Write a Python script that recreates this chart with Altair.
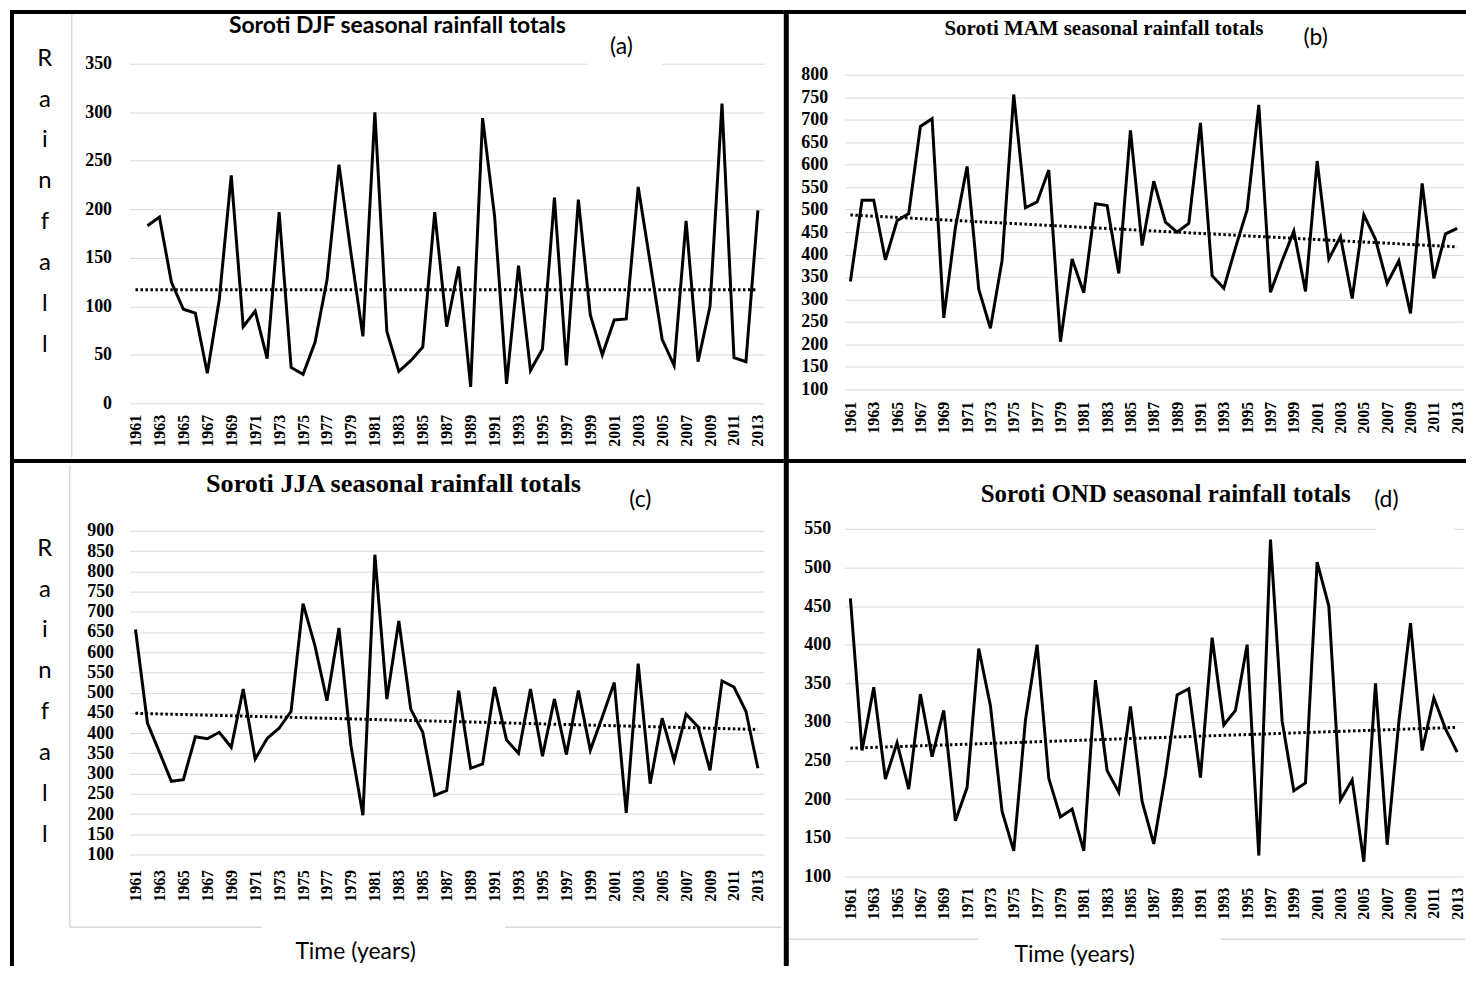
import altair as alt
import pandas as pd

# ---------------- data ----------------
years = list(range(1961, 2014))
tick_years = [1961, 1963, 1965, 1967, 1969, 1971, 1973, 1975, 1977, 1979, 1981,
              1983, 1985, 1987, 1989, 1991, 1993, 1995, 1997, 1999, 2001, 2003,
              2005, 2007, 2009, 2011, 2013]

djf = [None, 183, 192, 125, 97, 93, 31, 107, 235, 79, 95, 46, 197, 37, 30, 63,
       127, 246, 155, 69, 300, 74, 33, 44, 58, 197, 79, 141, 17, 294, 193, 20,
       142, 34, 56, 212, 39, 210, 91, 50, 86, 87, 223, 145, 66, 39, 188, 43,
       100, 309, 47, 43, 199]
mam = [340, 521, 521, 388, 475, 491, 685, 702, 259, 460, 596, 323, 236, 387,
       756, 504, 517, 588, 206, 390, 315, 513, 509, 358, 676, 420, 563, 472,
       450, 469, 693, 353, 325, 415, 500, 733, 316, 386, 452, 318, 608, 390,
       440, 302, 488, 434, 336, 386, 269, 558, 347, 446, 458]
jja = [656, 425, 353, 281, 285, 391, 386, 402, 365, 509, 336, 387, 412, 454,
       720, 615, 480, 660, 369, 197, 841, 484, 677, 459, 402, 246, 258, 505,
       313, 324, 514, 383, 350, 509, 343, 484, 347, 505, 358, 440, 525, 203,
       572, 275, 437, 332, 447, 416, 308, 529, 514, 454, 313]
ond = [460, 263, 345, 226, 273, 213, 336, 255, 315, 172, 215, 395, 321, 184,
       133, 302, 400, 227, 177, 187, 133, 354, 237, 209, 320, 197, 142, 231,
       335, 343, 228, 409, 296, 315, 400, 127, 536, 301, 211, 221, 507, 450,
       199, 225, 119, 350, 141, 300, 428, 263, 331, 291, 261]

trend_years = [1961, 2013]
djf_trend = [117, 117]
mam_trend = [488, 417]
jja_trend = [449, 409]
ond_trend = [266, 293]

titles = ["Soroti DJF seasonal rainfall totals", "Soroti MAM seasonal rainfall totals",
          "Soroti JJA seasonal rainfall totals", "Soroti OND seasonal rainfall totals"]
tags = ["(a)", "(b)", "(c)", "(d)"]
rain_letters = ["R", "a", "i", "n", "f", "a", "l", "l"]
x_title = "Time (years)"

SERIF = "Liberation Serif"
SANS = "Lato"
GRID = "#d9d9d9"
one = pd.DataFrame({"k": [0]})


def box(x1, x2, y1, y2, color):
    return alt.Chart(one).mark_rect(color=color).encode(
        x=alt.value(x1), x2=alt.value(x2), y=alt.value(y1), y2=alt.value(y2))


def hrule(x1, x2, y, color, w):
    return alt.Chart(one).mark_rule(color=color, strokeWidth=w).encode(
        x=alt.value(x1), x2=alt.value(x2), y=alt.value(y))


def vrule(x, y1, y2, color, w):
    return alt.Chart(one).mark_rule(color=color, strokeWidth=w).encode(
        x=alt.value(x), y=alt.value(y1), y2=alt.value(y2))


def label(x, y, s, font, size, weight="normal", baseline="alphabetic", **kw):
    return alt.Chart(one).mark_text(
        text=s, font=font, fontSize=size, fontWeight=weight, color="black",
        align="center", baseline=baseline, **kw).encode(x=alt.value(x), y=alt.value(y))


def panel(values, trend, ymin, ymax, yrange, W, H, L, R, T, B, ypad, xpad, xoff, extras):
    df = pd.DataFrame({"year": years, "rain": values}).dropna()
    tdf = pd.DataFrame({"year": trend_years, "rain": trend})
    xs = alt.X("year:Q", scale=alt.Scale(domain=[1960.5, 2013.5], nice=False, zero=False),
               axis=alt.Axis(values=tick_years, format="d", labelAngle=-90, grid=False,
                             domain=False, ticks=False, labelFont=SERIF, labelFontSize=16,
                             labelFontWeight="bold", labelColor="black", labelPadding=xpad,
                             labelOverlap=False, labelFlush=False, offset=xoff),
               title=None)
    ys = alt.Y("rain:Q", scale=alt.Scale(domain=[ymin, ymax], range=yrange, nice=False, zero=False),
               axis=alt.Axis(values=list(range(ymin, ymax + 1, 50)), grid=True,
                             gridColor=GRID, gridWidth=1, domain=False, ticks=False,
                             labelFont=SERIF, labelFontSize=18, labelFontWeight="bold",
                             labelColor="black", labelPadding=ypad, labelOverlap=False,
                             labelFlush=False),
               title=None)
    bounds = alt.Chart(one).mark_rect(fill="white", opacity=0).encode(
        x=alt.value(-L), x2=alt.value(W + R), y=alt.value(-T), y2=alt.value(H + B))
    line = alt.Chart(df).mark_line(color="black", strokeWidth=3).encode(x=xs, y=ys)
    tr = alt.Chart(tdf).mark_line(color="black", strokeWidth=3,
                                  strokeDash=[2.5, 2.5]).encode(x=xs, y=ys)
    layers = [bounds] + extras + [tr, line]
    return alt.layer(*layers).properties(width=W, height=H)


# common geometry
LL, WL, RL = 120, 637, 20      # left column  (page x 10 .. 787)
LR, WR, RR = 61, 621, 3        # right column (page x 787 .. 1472)
T1, H1, B1 = 54, 341, 58       # top row      (page y 8 .. 461)
T2, H2, B2 = 68, 349, 90       # bottom row   (page y 461 .. 968)

# ---------------- panel (a) ----------------
pa = panel(djf, djf_trend, 0, 350, [341, 0], WL, H1, LL, RL, T1, B1, 18, 11, 0, [
    box(460, 535, -8, 5, "white"),
    vrule(-58, -50, 395, GRID, 1.5),
    box(-LL, WL + RL, -T1, -T1 + 4, "black"),
    box(-LL, -LL + 4, -T1, H1 + B1, "black"),
    box(-LL, WL + RL, H1 + B1 - 2, H1 + B1, "black"),
    label(269, -31, titles[0], SANS, 23, "bold"),
    label(494, -17, tags[0], SANS, 23, baseline="middle"),
    label(-85, -17, rain_letters, SANS, 24, baseline="top", lineHeight=41),
])

# ---------------- panel (b) ----------------
pb = panel(mam, mam_trend, 100, 800, [327, 11], WR, H1, LR, RR, T1, B1, 17, 12, -14, [
    box(-LR, WR + RR, -T1, -T1 + 4, "black"),
    box(-LR, -LR + 5, -T1, H1 + B1, "black"),
    box(-LR, WR + RR, H1 + B1 - 2, H1 + B1, "black"),
    label(260.5, -29, titles[1], SERIF, 21, "bold"),
    label(473, -25.5, tags[1], SANS, 23, baseline="middle"),
])

# ---------------- panel (c) ----------------
pc = panel(jja, jja_trend, 100, 900, [327, 2], WL, H2, LL, RL, T2, B2, 16, 15, -22, [
    vrule(-60, -64, 400, GRID, 1.5),
    hrule(-60, 133, 400, GRID, 1.5),
    hrule(377, 655, 400, GRID, 1.5),
    box(-LL, WL + RL, -T2, -T2 + 2, "black"),
    box(-LL, -LL + 4, -T2, H2 + B2, "black"),
    label(265, -37.3, titles[2], SERIF, 26.3, "bold"),
    label(513, -29, tags[2], SANS, 23, baseline="middle"),
    label(-85, 8, rain_letters, SANS, 24, baseline="top", lineHeight=41),
    label(227, 432, x_title, SANS, 23),
])

# ---------------- panel (d) ----------------
pd_ = panel(ond, ond_trend, 100, 550, [349, 0], WR, H2, LR, RR, T2, B2, 14, 11, 0, [
    box(534, 612, -10, 4, "white"),
    hrule(-59, 134, 412, GRID, 1.5),
    hrule(378, 623, 412, GRID, 1.5),
    box(-LR, WR + RR, -T2, -T2 + 2, "black"),
    box(-LR, -LR + 5, -T2, H2 + B2, "black"),
    label(322.5, -27.3, titles[3], SERIF, 25, "bold"),
    label(544, -29, tags[3], SANS, 23, baseline="middle"),
    label(231, 435, x_title, SANS, 23),
])

row1 = alt.hconcat(pa, pb, spacing=0)
row2 = alt.hconcat(pc, pd_, spacing=0)
chart = alt.vconcat(row1, row2, spacing=0).properties(
    padding={"left": 2, "top": 0, "right": 0, "bottom": 0}
).configure_view(strokeWidth=0).configure_concat(spacing=0)

chart.save("out.html", embed_options={"renderer": "svg", "actions": False})
